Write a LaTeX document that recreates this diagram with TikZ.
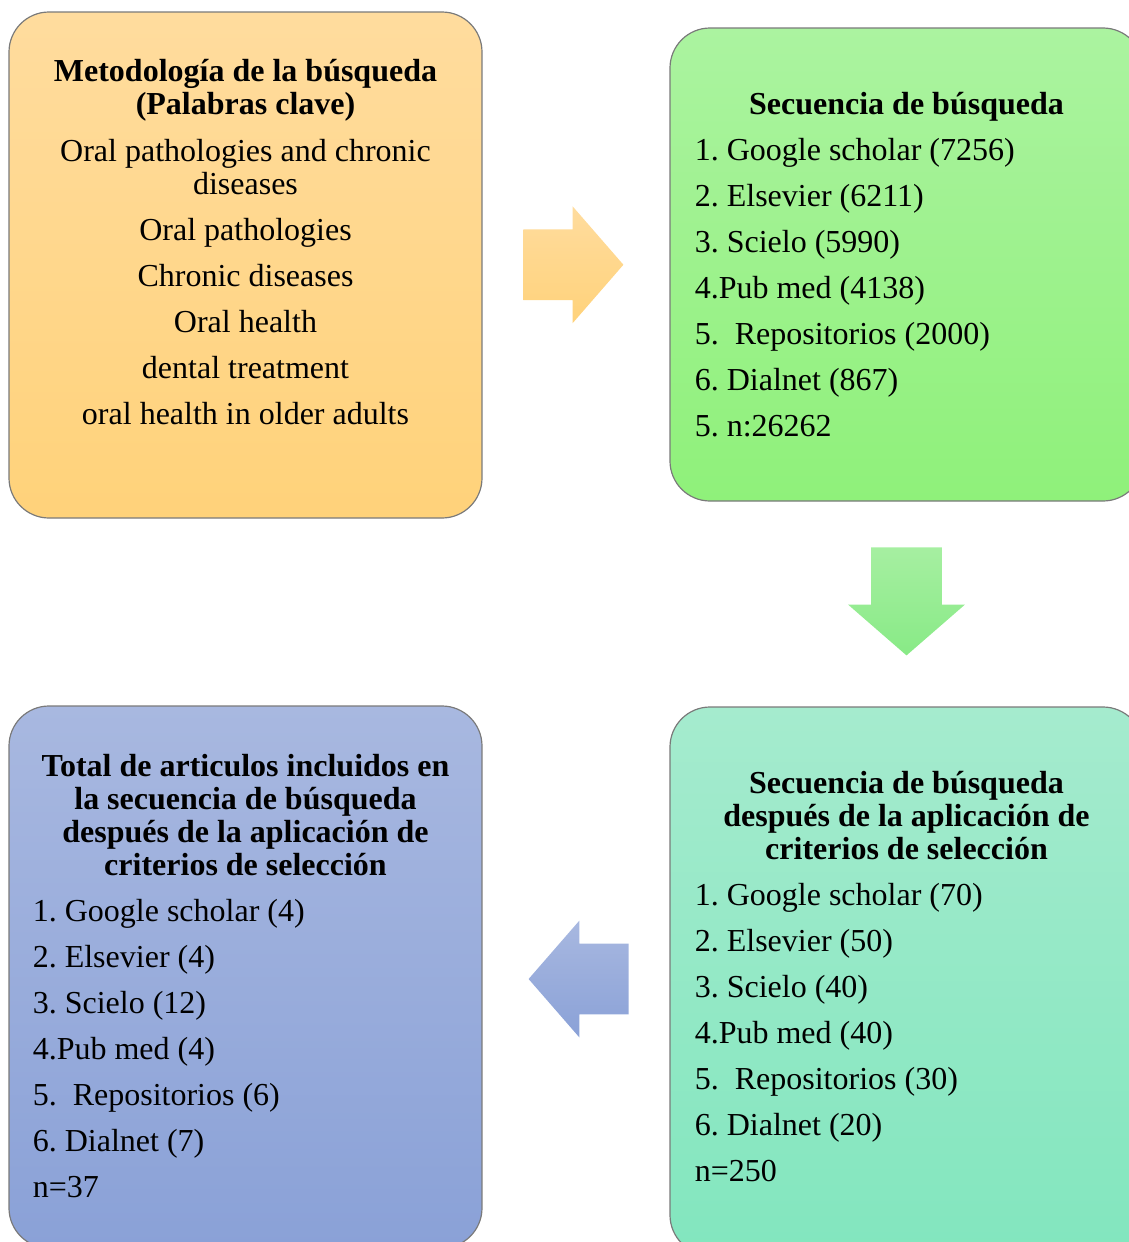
\documentclass[tikz,border=0pt]{standalone}
\usepackage{fontspec}
\setmainfont{Liberation Serif}
\usepackage{xcolor}
\usepackage{tikz}
\usetikzlibrary{positioning,calc,shapes.arrows}
\definecolor{edgegray}{HTML}{7A7A7A}
\definecolor{keytop}{HTML}{FFDC9E}
\definecolor{keybottom}{HTML}{FFD27A}
\definecolor{searchtop}{HTML}{ABF3A0}
\definecolor{searchbottom}{HTML}{8FF17A}
\definecolor{filtertop}{HTML}{A5EBCE}
\definecolor{filterbottom}{HTML}{82E6BE}
\definecolor{finaltop}{HTML}{A8B8E0}
\definecolor{finalbottom}{HTML}{8AA1D7}
\definecolor{downtop}{HTML}{A6EFA1}
\definecolor{downbottom}{HTML}{88EA86}
\frenchspacing
\tikzset{
  flowpicture/.style={x=0.5pt, y=-0.5pt},
  flowbox/.style={draw=edgegray, line width=0.6pt, rounded corners=20pt, inner sep=0pt, minimum width=236.5pt},
  keywordbox/.style={flowbox, top color=keytop, bottom color=keybottom, minimum height=253pt},
  searchbox/.style={flowbox, top color=searchtop, bottom color=searchbottom, minimum height=236.5pt},
  filterbox/.style={flowbox, top color=filtertop, bottom color=filterbottom, minimum height=274pt},
  finalbox/.style={flowbox, top color=finaltop, bottom color=finalbottom, minimum height=271pt},
  flowtitle/.style={font=\fontsize{16}{16.5}\selectfont\bfseries, align=center, inner sep=0pt},
  flowitems/.style={font=\fontsize{16}{16.5}\selectfont, align=left, inner sep=0pt},
  flowcentered/.style={flowitems, align=center},
  blockarrow/.style={single arrow, draw=none, anchor=tail, minimum height=50pt, single arrow head extend=11.5pt, single arrow tip angle=98},
  arrowright/.style={blockarrow, inner xsep=0pt, inner ysep=17.5pt, top color=keytop, bottom color=keybottom},
  arrowdown/.style={blockarrow, inner xsep=17.5pt, inner ysep=0pt, shape border rotate=270, minimum height=54pt, top color=downtop, bottom color=downbottom},
  arrowleft/.style={blockarrow, inner xsep=0pt, inner ysep=17.5pt, shape border rotate=180, top color=finaltop, bottom color=finalbottom}
}
\begin{document}
\begin{tikzpicture}[flowpicture]
\useasboundingbox (0,0) rectangle (1129,1242);
\clip (0,0) rectangle (1129,1242);
% boxes
\node[keywordbox] (keywords) at (245.5,265) {};
\node[searchbox] (search) at (906.5,264.5) {};
\node[filterbox] (afterfilter) at (906.5,981) {};
\node[finalbox] (included) at (245.5,977) {};
% texts
\node[flowtitle, below=23.5pt of keywords.north] (keywordstitle) {\strut Metodología de la búsqueda\\(Palabras clave)};
\node[flowcentered, below=63.5pt of keywords.north] (keywordslist) {\strut Oral pathologies and chronic\\diseases\\[6.5pt]
Oral pathologies\\[6.5pt] Chronic diseases\\[6.5pt] Oral health\\[6.5pt] dental treatment\\[6.5pt] oral health in older adults};
\node[flowtitle, below=32pt of search.north] (searchtitle) {\strut Secuencia de búsqueda};
\node[flowitems, below right=55pt and 12.5pt of search.north west] (searchlist) {\strut 1. Google scholar (7256)\\[6.5pt]
2. Elsevier (6211)\\[6.5pt] 3. Scielo (5990)\\[6.5pt] 4.Pub med (4138)\\[6.5pt]
5.\hspace{8pt}Repositorios (2000)\\[6.5pt] 6. Dialnet (867)\\[6.5pt] 5. n:26262};
\node[flowtitle, below=32pt of afterfilter.north] (filtertitle) {\strut Secuencia de búsqueda\\después de la aplicación de\\criterios de selección};
\node[flowitems, below right=88pt and 12.5pt of afterfilter.north west] (filterlist) {\strut 1. Google scholar (70)\\[6.5pt]
2. Elsevier (50)\\[6.5pt] 3. Scielo (40)\\[6.5pt] 4.Pub med (40)\\[6.5pt]
5.\hspace{8pt}Repositorios (30)\\[6.5pt] 6. Dialnet (20)\\[6.5pt] n=250};
\node[flowtitle, below=24pt of included.north] (includedtitle) {\strut Total de articulos incluidos en\\la secuencia de búsqueda\\después de la aplicación de\\criterios de selección};
\node[flowitems, below right=96.5pt and 12pt of included.north west] (includedlist) {\strut 1. Google scholar (4)\\[6.5pt]
2. Elsevier (4)\\[6.5pt] 3. Scielo (12)\\[6.5pt] 4.Pub med (4)\\[6.5pt]
5.\hspace{8pt}Repositorios (6)\\[6.5pt] 6. Dialnet (7)\\[6.5pt] n=37};
% block arrows
\node[arrowright] (toSearch) at ($(keywords.east)!0.5!(search.west)+(-26.5pt,0)$) {};
\node[arrowdown] (toFilter) at ($(search.south)!0.5!(afterfilter.north)+(0,28.5pt)$) {};
\node[arrowleft] (toIncluded) at ($(afterfilter.west)!0.5!(included.east)+(26.5pt,0)$) {};
\end{tikzpicture}
\end{document}
